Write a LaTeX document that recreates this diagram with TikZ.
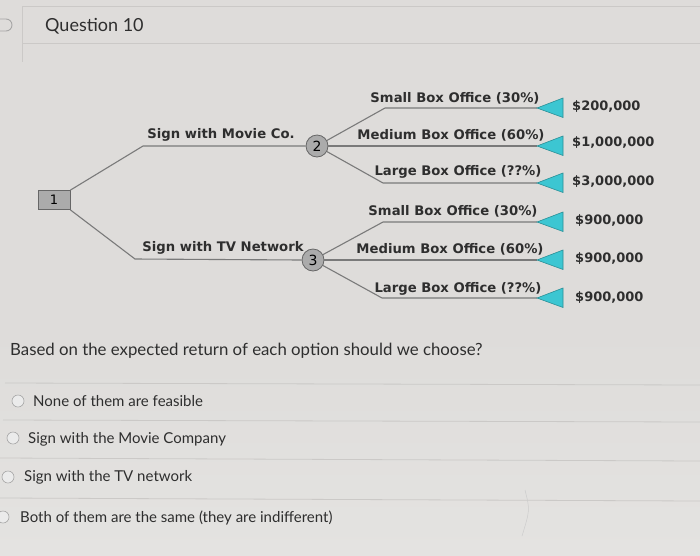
\documentclass[tikz,border=0pt]{standalone}
\usepackage{fontspec}
\setmainfont{Lato}
\newfontfamily\treefont{DejaVu Sans}
\definecolor{bg}{HTML}{DEDCDA}
\definecolor{bgb}{HTML}{E4E3E1}
\definecolor{sep}{HTML}{CBC9C7}
\definecolor{txt}{HTML}{2E2E2E}
\definecolor{branch}{HTML}{7A7A7A}
\definecolor{cyanfill}{HTML}{3CC6D2}
\definecolor{cyanedge}{HTML}{2A8F96}
\definecolor{nodefill}{HTML}{ABABAB}
\definecolor{nodeedge}{HTML}{666666}
\begin{document}
\begin{tikzpicture}[x=1pt,y=-1pt,
  br/.style={draw=branch,line width=1.1pt},
  tri/.style={fill=cyanfill,draw=cyanedge,line width=0.6pt},
  lab/.style={font=\treefont\bfseries\fontsize{13.2}{14}\selectfont,text=txt,inner sep=0pt},
  val/.style={font=\treefont\bfseries\fontsize{13}{14}\selectfont,text=txt,inner sep=0pt,anchor=west},
  chance/.style={circle,draw=nodeedge,fill=nodefill,line width=0.8pt,minimum size=22pt,inner sep=0pt,font=\treefont\fontsize{14}{14}\selectfont},
  q/.style={font=\fontsize{15}{16}\selectfont,text=txt,inner sep=0pt,anchor=west},
  radio/.style={circle,draw=black!35,fill=white!92!black,minimum size=12pt,inner sep=0pt,line width=0.6pt},
  sepl/.style={draw=sep,line width=0.8pt}]
\useasboundingbox (0,0) rectangle (700,555);
\fill[bg] (0,0) rectangle (700,330);
\shade[top color=bg,bottom color=bgb] (0,330) rectangle (700,555);
% header
\draw[sepl] (22,6) -- (700,6);
\draw[sepl] (22,43) -- (700,43);
\draw[sepl] (22,6) -- (22,62);
\draw[draw=black!35,line width=0.9pt] (0,19) -- (6,19) arc[start angle=90,end angle=-90,radius=6pt] -- (0,31);
\node[font=\fontsize{18}{20}\selectfont,text=txt,anchor=west,inner sep=0pt] (title) at (45,26) {Question 10};
% tree nodes
\node[draw=nodeedge,fill=nodefill,line width=0.8pt,minimum width=32pt,minimum height=19pt,inner sep=0pt,font=\treefont\fontsize{13}{13}\selectfont] (n1) at (54,200) {1};
\node[chance] (n2) at (317,146) {2};
\node[chance] (n3) at (313,260) {3};
\coordinate (a2) at (143,146);
\coordinate (a3) at (135,259);
\draw[br] (n1.north east) -- (a2) -- (n2.west);
\draw[br] (n1.south east) -- (a3) -- (n3.west);
\node[lab] (l2) at (221,135) {Sign with Movie Co.};
\node[lab] (l3) at (223,248) {Sign with TV Network};
% outcome tips
\coordinate (t1) at (537,108);
\coordinate (t2) at (537,146);
\coordinate (t3) at (537,183);
\coordinate (t4) at (537,222);
\coordinate (t5) at (537,260);
\coordinate (t6) at (537,298);
\coordinate (k1) at (385,108);
\coordinate (k3) at (383,183);
\coordinate (k4) at (383,222);
\coordinate (k6) at (382,298);
\draw[br] (n2) -- (k1) -- (t1);
\draw[br] (n2.east) -- (t2);
\draw[br] (n2) -- (k3) -- (t3);
\draw[br] (n3) -- (k4) -- (t4);
\draw[br] (n3.east) -- (t5);
\draw[br] (n3) -- (k6) -- (t6);
\foreach \t in {t1,t2,t3,t4,t5,t6}{
  \draw[tri] (\t) -- ++(26,-10) -- ++(0,19.5) -- cycle;
}
\node[lab] (o1) at (455,98) {Small Box Office (30\%)};
\node[lab] (o2) at (451,135) {Medium Box Office (60\%)};
\node[lab] (o3) at (458,172) {Large Box Office (??\%)};
\node[lab] (o4) at (453,211) {Small Box Office (30\%)};
\node[lab] (o5) at (450,249) {Medium Box Office (60\%)};
\node[lab] (o6) at (458,289) {Large Box Office (??\%)};
\node[val] (v1) at (572,107) {\$200,000};
\node[val] (v2) at (572,143) {\$1,000,000};
\node[val] (v3) at (572,182) {\$3,000,000};
\node[val] (v4) at (575,221) {\$900,000};
\node[val] (v5) at (575,259) {\$900,000};
\node[val] (v6) at (575,298) {\$900,000};
% question
\node[q,font=\fontsize{16.8}{18}\selectfont] (qq) at (10,351) {Based on the expected return of each option should we choose?};
\draw[sepl] (5,383) -- (700,385);
\draw[sepl] (3,420) -- (700,422);
\draw[sepl] (0,458) -- (700,461);
\draw[sepl] (0,498) -- (700,501);
\node[radio] (r1) at (18,401) {};
\node[q] (c1) at (33,401) {None of them are feasible};
\node[radio] (r2) at (13,438) {};
\node[q] (c2) at (28,439) {Sign with the Movie Company};
\node[radio] (r3) at (8,477) {};
\node[q] (c3) at (24,477) {Sign with the TV network};
\node[radio] (r4) at (3,517) {};
\node[q] (c4) at (20,518) {Both of them are the same (they are indifferent)};
\draw[draw=black!20,line width=0.5pt] (525,490) .. controls (530,510) .. (522,536);
\end{tikzpicture}
\end{document}
